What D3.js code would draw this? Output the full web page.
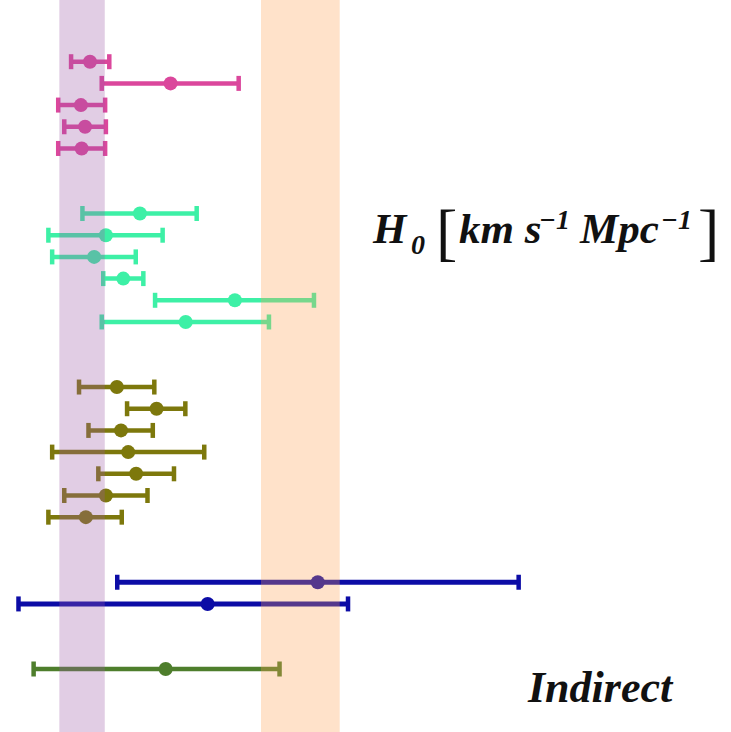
<!DOCTYPE html>
<html>
<head>
<meta charset="utf-8">
<script src="https://cdn.jsdelivr.net/npm/d3@7/dist/d3.min.js"></script>
<style>
  html, body { margin: 0; padding: 0; background: #fff; }
  svg { display: block; }
</style>
</head>
<body>
<script>
// ---------------- data ----------------
// row slot (top = 0), central value, lower bound, upper bound, group
const rows   = [0, 1, 2, 3, 4,   7, 8, 9, 10, 11, 12,   15, 16, 17, 18, 19, 20, 21,   24, 25,   28];
const values = [67.48, 69.61, 67.24, 67.35, 67.26,
                68.80, 67.90, 67.59, 68.36, 71.31, 70.01,
                68.19, 69.24, 68.30, 68.49, 68.70, 67.90, 67.37,
                73.50, 70.59,
                69.48];
const lowers = [66.98, 67.79, 66.64, 66.80, 66.64,
                67.28, 66.38, 66.48, 67.83, 69.20, 67.79,
                67.19, 68.46, 67.44, 66.48, 67.70, 66.80, 66.38,
                68.20, 65.59,
                65.99];
const uppers = [67.99, 71.41, 67.88, 67.90, 67.88,
                70.30, 69.40, 68.69, 68.89, 73.40, 72.21,
                69.18, 70.00, 69.14, 70.50, 69.70, 69.00, 68.32,
                78.81, 74.30,
                72.49];
const groups = ["A","A","A","A","A",
                "B","B","B","B","B","B",
                "C","C","C","C","C","C","C",
                "D","D",
                "E"];
const groupNames  = ["A", "B", "C", "D", "E"];
const groupColors = ["#DB479C", "#3DF0A6", "#7D780C", "#0C0CA6", "#4E7E2C"];

// reference bands: [centre, half-width]
const bandCentres = [67.27, 73.04];
const bandHalf    = [0.60, 1.04];
const bandColors  = ["#9A58A6", "#FFA050"];

const labelMain = "Indirect";

// ---------------- chart ----------------
const W = 731, H = 732;
const svg = d3.select("body").append("svg").attr("width", W).attr("height", H);

const x = d3.scaleLinear().domain([67.27, 73.04]).range([82.05, 300.35]);
const y = d3.scaleLinear().domain([0, 28]).range([61.7, 669.0]);
const color = d3.scaleOrdinal().domain(groupNames).range(groupColors);

const data = rows.map((r, i) => ({ r, v: values[i], lo: lowers[i], hi: uppers[i], g: groups[i] }));

const capH = 7.5;
const g = svg.append("g");
const pts = g.selectAll("g.pt").data(data).join("g").attr("class", "pt");
pts.append("line")
  .attr("x1", d => x(d.lo)).attr("x2", d => x(d.hi))
  .attr("y1", d => y(d.r)).attr("y2", d => y(d.r))
  .attr("stroke", d => color(d.g)).attr("stroke-width", d => d.g === "D" ? 5 : 4.5);
pts.append("line")
  .attr("x1", d => x(d.lo)).attr("x2", d => x(d.lo))
  .attr("y1", d => y(d.r) - capH).attr("y2", d => y(d.r) + capH)
  .attr("stroke", d => color(d.g)).attr("stroke-width", 4.5);
pts.append("line")
  .attr("x1", d => x(d.hi)).attr("x2", d => x(d.hi))
  .attr("y1", d => y(d.r) - capH).attr("y2", d => y(d.r) + capH)
  .attr("stroke", d => color(d.g)).attr("stroke-width", 4.5);
pts.append("circle")
  .attr("cx", d => x(d.v)).attr("cy", d => y(d.r)).attr("r", 7)
  .attr("fill", d => color(d.g));

// bands on top, translucent
svg.append("g").selectAll("rect")
  .data(bandCentres.map((c, i) => ({ c, h: bandHalf[i], col: bandColors[i] })))
  .join("rect")
  .attr("x", d => x(d.c - d.h))
  .attr("width", d => x(d.c + d.h) - x(d.c - d.h))
  .attr("y", 0).attr("height", H)
  .attr("fill", d => d.col).attr("fill-opacity", 0.3);

// axis label text
const serif = "'Liberation Serif', 'Times New Roman', serif";
const t = svg.append("text")
  .attr("font-family", serif).attr("font-weight", "bold").attr("font-style", "italic")
  .attr("font-size", 43).attr("fill", "#111");
const base = 243;
const parts = [
  { s: "H",        x: 373, y: base,      fs: 43 },
  { s: "0",        x: 411, y: base + 11, fs: 28 },
  { s: "[",        x: 436, y: base + 10, fs: 64, up: true },
  { s: "km s",     x: 459, y: base,      fs: 43 },
  { s: "\u22121",  x: 539, y: base - 14, fs: 28 },
  { s: "Mpc",      x: 580, y: base,      fs: 43 },
  { s: "\u22121",  x: 661, y: base - 14, fs: 28 },
  { s: "]",        x: 698, y: base + 10, fs: 64, up: true }
];
parts.forEach(p => {
  const ts = t.append("tspan").attr("x", p.x).attr("y", p.y).attr("font-size", p.fs).text(p.s);
  if (p.up) ts.attr("font-style", "normal").attr("font-weight", "normal");
});

svg.append("text")
  .attr("x", 528).attr("y", 702)
  .attr("font-family", serif).attr("font-weight", "bold").attr("font-style", "italic")
  .attr("font-size", 44).attr("fill", "#111")
  .text(labelMain);
</script>
</body>
</html>
